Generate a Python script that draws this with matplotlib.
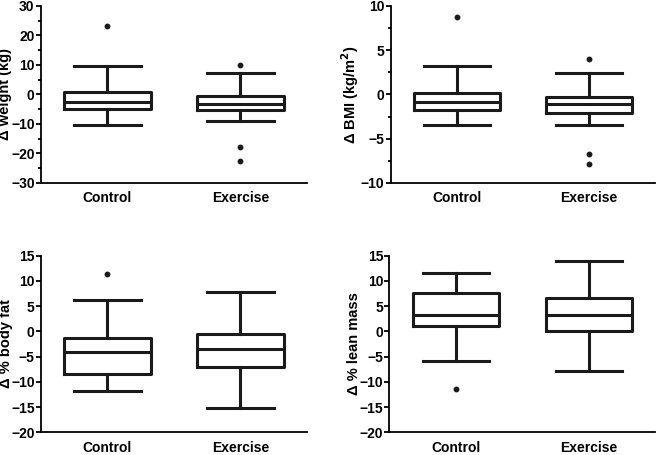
import matplotlib
matplotlib.use('Agg')
import matplotlib.pyplot as plt
from matplotlib.ticker import MultipleLocator

plt.rcParams['font.family'] = ['Liberation Sans', 'DejaVu Sans']
plt.rcParams['font.weight'] = 'bold'
plt.rcParams['mathtext.default'] = 'bf'

# data: [whislo, q1, med, q3, whishi] for Control, Exercise
groups = ['Control', 'Exercise']

weight_ctrl = [-10.2, -5.1, -2.5, 0.7, 9.8]
weight_ex = [-8.9, -5.2, -3.1, -0.6, 7.4]
weight_fl = [[23.2], [10.1, -17.8, -22.7]]

bmi_ctrl = [-3.5, -1.8, -0.9, 0.2, 3.2]
bmi_ex = [-3.4, -2.1, -1.1, -0.3, 2.4]
bmi_fl = [[8.7], [4.0, -6.7, -7.9]]

fat_ctrl = [-11.8, -8.4, -4.1, -1.4, 6.3]
fat_ex = [-15.1, -7.0, -3.4, -0.6, 7.8]
fat_fl = [[11.3], []]

lean_ctrl = [-5.9, 1.1, 3.3, 7.6, 11.5]
lean_ex = [-7.8, 0.1, 3.2, 6.7, 14.0]
lean_fl = [[-11.5], []]

ylabels = ['\u0394 weight (kg)', '\u0394 BMI (kg/m$^{2}$)',
           '\u0394 % body fat', '\u0394 % lean mass']
ylims = [(-30, 30), (-10, 10), (-20, 15), (-20, 15)]
majors = [10, 5, 5, 5]
minors = [5, 2.5, None, None]


def make_stats(vals, fl):
    lo, q1, med, q3, hi = vals
    return dict(whislo=lo, q1=q1, med=med, q3=q3, whishi=hi, fliers=fl)


panels = [
    (weight_ctrl, weight_ex, weight_fl),
    (bmi_ctrl, bmi_ex, bmi_fl),
    (fat_ctrl, fat_ex, fat_fl),
    (lean_ctrl, lean_ex, lean_fl),
]

fig = plt.figure(figsize=(6.6, 4.55), dpi=100)
rects = [
    [0.062, 0.598, 0.403, 0.389],
    [0.592, 0.598, 0.401, 0.389],
    [0.062, 0.050, 0.403, 0.388],
    [0.590, 0.050, 0.403, 0.388],
]
label_x = [-0.107, -0.112, -0.104, -0.108]

lw = 2.2
col = '#1a1a1a'
for i, (ctrl, ex, fl) in enumerate(panels):
    ax = fig.add_axes(rects[i])
    stats = [make_stats(ctrl, fl[0]), make_stats(ex, fl[1])]
    ax.bxp(stats, positions=[1, 2], widths=0.65, showfliers=True,
           boxprops=dict(color=col, linewidth=lw),
           medianprops=dict(color=col, linewidth=lw),
           whiskerprops=dict(color=col, linewidth=lw),
           capprops=dict(color=col, linewidth=lw),
           capwidths=0.5,
           flierprops=dict(marker='o', markersize=3.2, markerfacecolor=col,
                           markeredgecolor=col))
    ax.set_xlim(0.5, 2.5)
    ax.set_ylim(*ylims[i])
    ax.yaxis.set_major_locator(MultipleLocator(majors[i]))
    if minors[i]:
        ax.yaxis.set_minor_locator(MultipleLocator(minors[i]))
    ax.set_xticks([1, 2])
    ax.set_xticklabels(groups, fontsize=10, fontweight='bold')
    ax.tick_params(axis='x', length=0, pad=6)
    ax.tick_params(axis='y', which='major', length=3.5, width=1.3, labelsize=10, pad=1)
    ax.tick_params(axis='y', which='minor', length=2.5, width=1.3)
    for lab in ax.get_yticklabels():
        lab.set_fontweight('bold')
    ax.spines['top'].set_visible(False)
    ax.spines['right'].set_visible(False)
    ax.spines['left'].set_linewidth(1.3)
    ax.spines['bottom'].set_linewidth(1.3)
    ax.set_ylabel(ylabels[i], fontsize=10.5, fontweight='bold')
    ax.yaxis.set_label_coords(label_x[i], 0.5)

fig.savefig('out.png', dpi=100)
